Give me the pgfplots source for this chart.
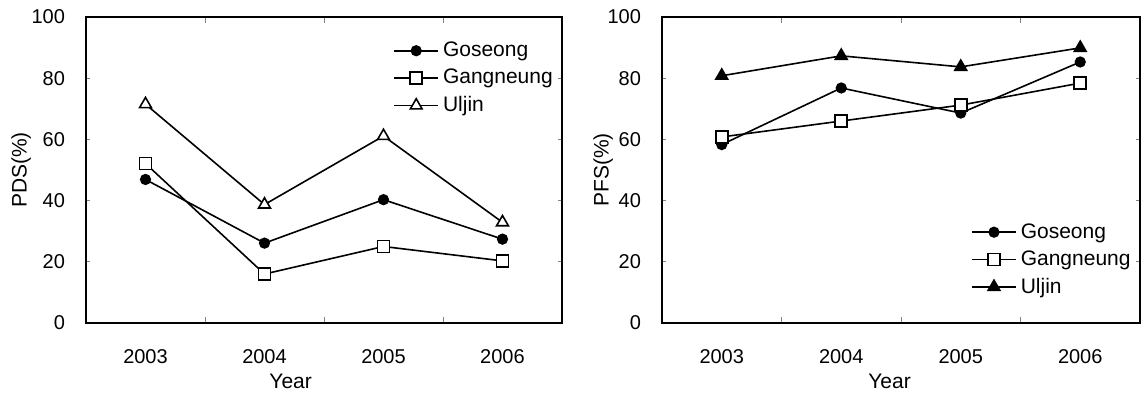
\documentclass[border=0pt]{standalone}
\usepackage{fontspec}
\setmainfont{Liberation Sans}
\usepackage{pgfplots}
\pgfplotsset{compat=1.18}
\begin{document}
\begin{tikzpicture}
\useasboundingbox (0pt,0pt) rectangle (570.5pt,198pt);
\pgfplotsset{
  myax/.style={
    scale only axis, width=238pt, height=153pt,
    xmin=2002.5, xmax=2006.5, ymin=0, ymax=100,
    xtick={2003,2004,2005,2006}, xticklabels={2003,2004,2005,2006},
    ytick={0,20,40,60,80,100},
    minor xtick={2003.5,2004.5,2005.5},
    /pgf/number format/assume math mode=true,
    ticklabel style={font=\fontsize{10}{12}\selectfont},
    label style={font=\fontsize{10.5}{12}\selectfont},
    xtick style={draw=none},
    minor x tick style={draw=gray, thin},
    minor tick length=3pt,
    ytick style={draw=gray, thin},
    major tick length=2pt,
    y tick label style={xshift=-7pt},
    x tick label style={yshift=-9.5pt},
    axis line style={line width=0.7pt},
    legend style={draw=none, fill=none, font=\fontsize{10.5}{12}\selectfont, row sep=0.8pt, inner sep=0pt},
    legend cell align=left,
    legend image code/.code={\draw[##1, line width=0.8pt] (0pt,0pt) -- (22pt,0pt); \draw[##1, line width=0.8pt] plot coordinates {(11pt,0pt)};},
  },
  s1/.style={black, line width=0.8pt, mark=*, mark size=2.4pt, mark options={fill=black, solid}},
  s2/.style={black, line width=0.8pt, mark=square*, mark size=3pt, mark options={fill=white, solid}},
  s3o/.style={black, line width=0.8pt, mark=triangle*, mark size=3.4pt, mark options={fill=white, solid}},
  s3f/.style={black, line width=0.8pt, mark=triangle*, mark size=3.4pt, mark options={fill=black, solid}},
}
\begin{axis}[myax, at={(43pt,36.5pt)}, anchor=south west,
  ylabel={PDS(\%)},
  ylabel style={at={(axis description cs:0,0.5)}, anchor=south, yshift=24pt},
  xlabel={Year},
  xlabel style={at={(axis description cs:0.43,0)}, anchor=north, yshift=-22pt},
  legend style={at={(axis description cs:0.645,0.933)}, anchor=north west}]
\addplot[s1] coordinates {(2003,46.9) (2004,26.1) (2005,40.3) (2006,27.4)};
\addlegendentry{Goseong}
\addplot[s2] coordinates {(2003,52.1) (2004,16.0) (2005,25.0) (2006,20.3)};
\addlegendentry{Gangneung}
\addplot[s3o] coordinates {(2003,71.5) (2004,38.7) (2005,61.1) (2006,32.9)};
\addlegendentry{Uljin}
\end{axis}
\begin{axis}[myax, at={(331pt,36.5pt)}, anchor=south west, width=239pt,
  ylabel={PFS(\%)},
  ylabel style={at={(axis description cs:0,0.5)}, anchor=south, yshift=21pt},
  xlabel={Year},
  xlabel style={at={(axis description cs:0.476,0)}, anchor=north, yshift=-22pt},
  legend style={at={(axis description cs:0.646,0.34)}, anchor=north west}]
\addplot[s1] coordinates {(2003,58.3) (2004,76.8) (2005,68.6) (2006,85.3)};
\addlegendentry{Goseong}
\addplot[s2] coordinates {(2003,60.8) (2004,66.0) (2005,71.2) (2006,78.4)};
\addlegendentry{Gangneung}
\addplot[s3f] coordinates {(2003,80.8) (2004,87.3) (2005,83.7) (2006,89.9)};
\addlegendentry{Uljin}
\end{axis}
\end{tikzpicture}
\end{document}
